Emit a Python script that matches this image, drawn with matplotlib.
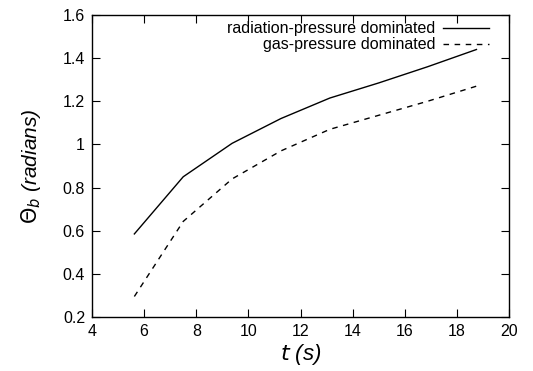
import matplotlib
matplotlib.use("Agg")
import matplotlib.pyplot as plt

t = [5.625, 7.5, 9.375, 11.25, 13.125, 15.0, 16.875, 18.75]
theta_rad = [0.585, 0.85, 1.005, 1.12, 1.215, 1.285, 1.36, 1.44]
theta_gas = [0.295, 0.643, 0.84, 0.97, 1.07, 1.135, 1.20, 1.27]

xticks = [4, 6, 8, 10, 12, 14, 16, 18, 20]
yticks = [0.2, 0.4, 0.6, 0.8, 1.0, 1.2, 1.4, 1.6]
yticklabels = ["0.2", "0.4", "0.6", "0.8", "1", "1.2", "1.4", "1.6"]

plt.rcParams['font.family'] = ['Liberation Sans', 'DejaVu Sans']

fig = plt.figure(figsize=(5.33, 3.71), dpi=100)
ax = fig.add_axes([0.1726, 0.1456, 0.7824, 0.814])

ax.plot(t, theta_rad, color='black', lw=1.0, label='radiation-pressure dominated')
ax.plot(t, theta_gas, color='black', lw=1.0, dashes=(4, 4), label='gas-pressure dominated')

ax.set_xlim(4, 20)
ax.set_ylim(0.2, 1.6)
ax.set_xticks(xticks)
ax.set_yticks(yticks)
ax.set_yticklabels(yticklabels)
ax.tick_params(direction='in', length=6, width=0.8, top=True, right=True,
               labelsize=11.5, pad=5)
for sp in ax.spines.values():
    sp.set_linewidth(1.0)

ax.set_xlabel('$t$ (s)', fontsize=16, style='italic', labelpad=2)
ax.set_ylabel(r'$\Theta_b$ (radians)', fontsize=15, style='italic', labelpad=14)

ax.legend(loc='upper right', frameon=False, markerfirst=False, fontsize=11.5,
          handlelength=2.9, borderaxespad=0.0, labelspacing=0.05,
          handletextpad=0.45, bbox_to_anchor=(0.967, 1.0))

fig.savefig('out.png', dpi=100)
